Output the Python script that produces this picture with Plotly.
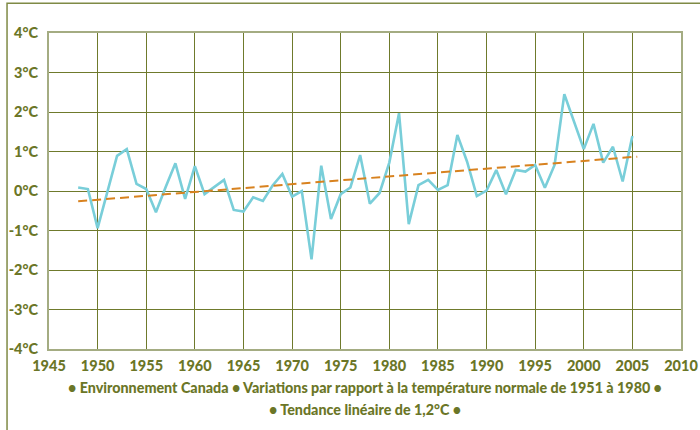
import plotly.graph_objects as go

years = list(range(1948, 2006))
anomalies = [
    0.09, 0.05, -0.94, 0.00, 0.89, 1.06, 0.18, 0.05, -0.54, 0.10,
    0.70, -0.20, 0.63, -0.08, 0.10, 0.28, -0.48, -0.52, -0.16, -0.25,
    0.14, 0.43, -0.14, 0.00, -1.73, 0.64, -0.71, -0.08, 0.09, 0.91,
    -0.32, -0.05, 0.72, 1.97, -0.84, 0.15, 0.28, 0.03, 0.15, 1.42,
    0.74, -0.13, 0.01, 0.53, -0.08, 0.53, 0.49, 0.66, 0.08, 0.66,
    2.45, 1.76, 1.06, 1.70, 0.72, 1.12, 0.24, 1.39,
]
trend_years = [1948, 2005.5]
trend_values = [-0.26, 0.87]

y_tickvals = [4, 3, 2, 1, 0, -1, -2, -3, -4]
y_ticktext = ["4°C", "3°C", "2°C", "1°C", "0°C", "-1°C", "-2°C", "-3°C", "-4°C"]
x_tickvals = list(range(1945, 2011, 5))
x_ticktext = [str(v) for v in x_tickvals]

footer_1 = "• Environnement Canada • Variations par rapport à la température normale de 1951 à 1980 •"
footer_2 = "• Tendance linéaire de 1,2°C •"

OLIVE = "#6b7627"
GRID = "#6f7a2c"
FRAME = "#a4ac82"
FONT = "Lato"

fig = go.Figure()
fig.add_trace(go.Scatter(
    x=years, y=anomalies, mode="lines",
    line=dict(color="#79ced9", width=2.6),
    hoverinfo="skip", showlegend=False,
))
fig.add_trace(go.Scatter(
    x=trend_years, y=trend_values, mode="lines",
    line=dict(color="#d8821f", width=2, dash="9px,5px"),
    hoverinfo="skip", showlegend=False,
))

tick_font = dict(family=FONT, color=OLIVE, size=14.5, weight=900)

fig.update_layout(
    width=700, height=430,
    margin=dict(l=49, r=19, t=33, b=81),
    paper_bgcolor="white", plot_bgcolor="white",
    font=dict(family=FONT, color=OLIVE, size=14),
    xaxis=dict(
        range=[1945, 2010], tickvals=x_tickvals, ticktext=x_ticktext,
        showgrid=True, gridcolor=GRID, gridwidth=1.2,
        showline=True, linecolor=FRAME, linewidth=2, mirror=True,
        zeroline=False, ticks="", ticklabelstandoff=3, automargin=False,
        tickfont=tick_font,
    ),
    yaxis=dict(
        range=[-4, 4], tickvals=y_tickvals, ticktext=y_ticktext,
        showgrid=True, gridcolor=GRID, gridwidth=1.2,
        showline=True, linecolor=FRAME, linewidth=2, mirror=True,
        zeroline=False, ticks="", ticklabelstandoff=6, automargin=False,
        tickfont=tick_font,
    ),
    annotations=[
        dict(text=footer_1, xref="paper", yref="paper", x=0.5, y=-0.123,
             xanchor="center", yanchor="middle", showarrow=False,
             font=dict(family=FONT, color=OLIVE, size=14.3, weight=900)),
        dict(text=footer_2, xref="paper", yref="paper", x=0.5, y=-0.19,
             xanchor="center", yanchor="middle", showarrow=False,
             font=dict(family=FONT, color=OLIVE, size=14.3, weight=900)),
    ],
    shapes=[
        dict(type="path", xref="paper", yref="paper",
             path="M -0.0664,-0.4 L -0.0664,1.094 L 1.2,1.094",
             line=dict(color="#7f8a45", width=1.5)),
    ],
)

fig.write_html(
    "out.html",
    config={"displayModeBar": False},
    post_script="document.body.style.margin='0';document.body.style.overflow='hidden';",
)
